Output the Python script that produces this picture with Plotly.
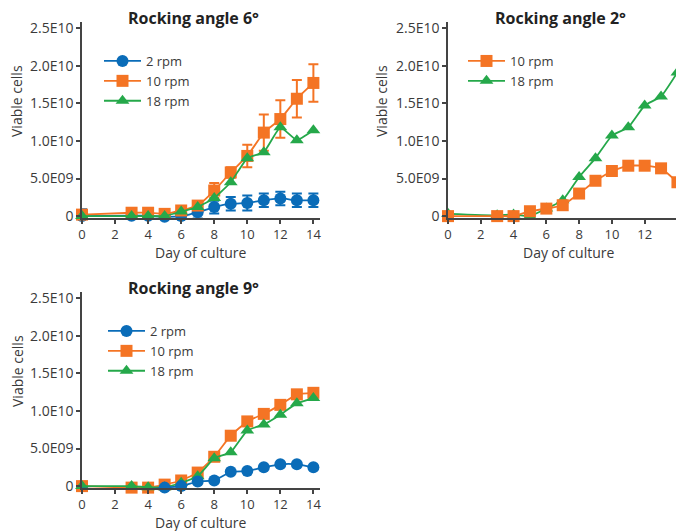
import plotly.graph_objects as go

days = [0, 3, 4, 5, 6, 7, 8, 9, 10, 11, 12, 13, 14]

# Rocking angle 6°
a6_2rpm = [0.0, 0.05, 0.05, -0.1, 0.0, 0.5, 1.2, 1.65, 1.75, 2.1, 2.35, 2.1, 2.1]
a6_2rpm_err = [0.9, 0.9, 0.9, 0.95, 0.9, 0.8, 0.85, 0.9, 1.0, 0.9, 0.9, 0.9, 0.9]
a6_10rpm = [0.2, 0.45, 0.45, 0.3, 0.75, 1.4, 3.4, 5.8, 8.0, 11.1, 12.9, 15.6, 17.7]
a6_10rpm_err = [0.0, 0.0, 0.0, 0.0, 0.0, 0.3, 1.0, 0.7, 1.5, 2.4, 2.5, 2.5, 2.5]
a6_18rpm = [0.0, 0.0, 0.0, 0.0, 0.6, 1.2, 2.4, 4.5, 7.7, 8.5, 11.8, 10.1, 11.4]

# Rocking angle 2°
a2_10rpm = [0.0, 0.0, 0.0, 0.65, 1.0, 1.45, 3.0, 4.7, 6.0, 6.7, 6.7, 6.35, 4.5]
a2_18rpm = [0.3, 0.1, 0.2, 0.0, 1.0, 2.1, 5.2, 7.7, 10.7, 11.8, 14.7, 15.9, 19.1]

# Rocking angle 9°
a9_2rpm = [-0.3, -0.6, -0.45, -0.2, 0.0, 0.6, 0.75, 1.9, 2.0, 2.5, 2.9, 2.9, 2.5]
a9_10rpm = [0.0, -0.2, -0.2, 0.2, 0.75, 1.8, 3.9, 6.7, 8.6, 9.6, 10.8, 12.2, 12.4]
a9_18rpm = [0.0, 0.0, -0.15, -0.15, 0.45, 1.3, 3.7, 4.5, 7.4, 8.2, 9.5, 11.0, 11.7]

SCALE = 1e9
titles = ["Rocking angle 6°", "Rocking angle 2°", "Rocking angle 9°"]
ytickvals = [0, 5e9, 1.0e10, 1.5e10, 2.0e10, 2.5e10]
yticktext = ["0", "5.0E09", "1.0E10", "1.5E10", "2.0E10", "2.5E10"]
xtickvals = [0, 2, 4, 6, 8, 10, 12, 14]
x_title = "Day of culture"
y_title = "Viable cells"

BLUE = "#0a6cb8"
ORANGE = "#f47424"
GREEN = "#25a84a"
TXT = "#3a3a3a"
FONT = "Open Sans"

def sc(v):
    return [x * SCALE for x in v]

fig = go.Figure()

def add(name, y, color, symbol, xa, ya, legend, rank, err=None, size=12):
    kw = {}
    if err is not None:
        kw["error_y"] = dict(type="data", array=sc(err), visible=True,
                             color=color, thickness=2, width=5)
    fig.add_trace(go.Scatter(
        x=days, y=sc(y), name=name, mode="lines+markers",
        line=dict(color=color, width=1.8, shape="spline", smoothing=0.4),
        marker=dict(color=color, symbol=symbol, size=size),
        xaxis=xa, yaxis=ya, legend=legend, legendrank=rank,
        cliponaxis=False, **kw))

# panel 1
add("2 rpm", a6_2rpm, BLUE, "circle", "x", "y", "legend", 1, a6_2rpm_err)
add("10 rpm", a6_10rpm, ORANGE, "square", "x", "y", "legend", 2, a6_10rpm_err)
add("18 rpm", a6_18rpm, GREEN, "triangle-up", "x", "y", "legend", 3)
# panel 2
add("18 rpm", a2_18rpm, GREEN, "triangle-up", "x2", "y2", "legend2", 2)
add("10 rpm", a2_10rpm, ORANGE, "square", "x2", "y2", "legend2", 1)
# panel 3
add("10 rpm", a9_10rpm, ORANGE, "square", "x3", "y3", "legend3", 2)
add("18 rpm", a9_18rpm, GREEN, "triangle-up", "x3", "y3", "legend3", 3)
add("2 rpm", a9_2rpm, BLUE, "circle", "x3", "y3", "legend3", 1)

# the page body has an 8px margin; the figure fills the rest of the window
OFF = 8
W, H = 684 - OFF, 531 - OFF
def px(x):
    return (x - OFF) / W
def py(y):
    return 1 - (y - OFF) / H

domains = [
    ([px(82), px(320)], [py(218), py(22)]),
    ([px(448), 1.0], [py(218), py(22)]),
    ([px(82), px(320)], [py(488), py(292)]),
]

axis_common = dict(showline=True, linecolor="#444444", linewidth=1.5,
                   ticks="outside", ticklen=4, tickwidth=1.5, tickcolor="#444444",
                   showgrid=False, zeroline=False, automargin=False)

layout = dict(
    width=W, height=H, margin=dict(l=0, r=0, t=0, b=0, autoexpand=False),
    plot_bgcolor="white", paper_bgcolor="white",
    font=dict(family=FONT, color=TXT),
)
suffixes = ["", "2", "3"]
for i, s in enumerate(suffixes):
    xd, yd = domains[i]
    layout["xaxis" + s] = dict(axis_common, domain=xd, range=[0, 14.4],
                               tickvals=xtickvals, anchor="y" + s,
                               tickfont=dict(family=FONT, size=13, color=TXT))
    layout["yaxis" + s] = dict(axis_common, domain=yd, range=[-0.25e9, 2.58e10],
                               tickvals=ytickvals, ticktext=yticktext, anchor="x" + s,
                               tickfont=dict(family=FONT, size=14, color=TXT))

leg_common = dict(bgcolor="rgba(0,0,0,0)", font=dict(family=FONT, size=13, color=TXT),
                  itemwidth=37, xanchor="left", yanchor="top", tracegroupgap=0)
layout["legend"] = dict(leg_common, x=px(99), y=py(46))
layout["legend2"] = dict(leg_common, x=px(463), y=py(46))
layout["legend3"] = dict(leg_common, x=px(103), y=py(316))

fig.update_layout(**layout)

title_pos = [(193, 18), (560, 18), (193, 288)]
for t, (xx, yy) in zip(titles, title_pos):
    fig.add_annotation(text="<b>" + t + "</b>", x=px(xx), y=py(yy), xref="paper", yref="paper",
                       showarrow=False, font=dict(family=FONT, size=16, color="#222222"),
                       xanchor="center", yanchor="middle")

xt_pos = [(200, 252), (568, 252), (200, 522)]
for xx, yy in xt_pos:
    fig.add_annotation(text=x_title, x=px(xx), y=py(yy), xref="paper", yref="paper",
                       showarrow=False, font=dict(family=FONT, size=14, color=TXT),
                       xanchor="center", yanchor="middle")

yt_pos = [(17, 101), (382, 101), (17, 371)]
for xx, yy in yt_pos:
    fig.add_annotation(text=y_title, x=px(xx), y=py(yy), xref="paper", yref="paper",
                       showarrow=False, textangle=-90, font=dict(family=FONT, size=14, color=TXT),
                       xanchor="center", yanchor="middle")

fig.write_html("out.html")
